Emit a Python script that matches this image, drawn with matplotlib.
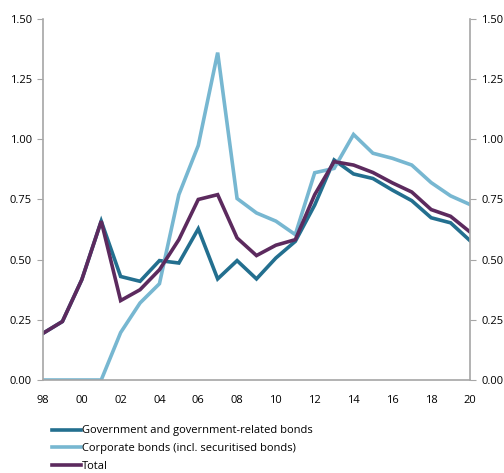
import matplotlib
matplotlib.use("Agg")
import matplotlib.pyplot as plt

plt.rcParams['font.family'] = ['Open Sans', 'DejaVu Sans']

# yearly values, 1998-2020
years = list(range(1998, 2021))
gov = [0.194, 0.243, 0.417, 0.66, 0.43, 0.41, 0.496, 0.486, 0.628, 0.42, 0.496, 0.42,
       0.507, 0.576, 0.727, 0.914, 0.856, 0.837, 0.789, 0.745, 0.674, 0.653, 0.579]
corp = [0.0, 0.0, 0.0, 0.0, 0.197, 0.32, 0.40, 0.77, 0.974, 1.36, 0.754, 0.694,
        0.66, 0.604, 0.861, 0.879, 1.02, 0.942, 0.921, 0.893, 0.82, 0.765, 0.729]
total = [0.194, 0.243, 0.417, 0.66, 0.33, 0.375, 0.458, 0.583, 0.75, 0.77, 0.59, 0.517,
         0.56, 0.583, 0.77, 0.907, 0.893, 0.862, 0.819, 0.781, 0.708, 0.68, 0.615]
labels = ['Government and government-related bonds',
          'Corporate bonds (incl. securitised bonds)',
          'Total']
colours = ['#236f8f', '#77b7d1', '#5c2a5e']

fig = plt.figure(figsize=(5.04, 4.73), dpi=100)
ax = fig.add_axes([0.0853, 0.1966, 0.8472, 0.7634])

for vals, lab, col in zip([gov, corp, total], labels, colours):
    ax.plot(years, vals, color=col, lw=2.6, label=lab, solid_joinstyle='miter')

ax.set_xlim(1998, 2020)
ax.set_ylim(0, 1.5)
ax.set_yticks([0, 0.25, 0.5, 0.75, 1.0, 1.25, 1.5])
ax.set_xticks(range(1998, 2021, 2))
ax.set_xticklabels(['%02d' % (y % 100) for y in range(1998, 2021, 2)])

gray = '#a6a6a6'
for s in ['left', 'right', 'bottom']:
    ax.spines[s].set_color(gray)
    ax.spines[s].set_linewidth(1.2)
ax.spines['top'].set_visible(False)
ax.tick_params(axis='y', which='both', left=True, right=True, labelleft=True, labelright=True,
               direction='out', length=4, color=gray, labelsize=8, pad=4)
ax.tick_params(axis='x', length=0, labelsize=8, pad=11)
ax.yaxis.set_major_formatter(matplotlib.ticker.FormatStrFormatter('%.2f'))

# legend sits below the x labels, no frame
fig.legend(loc='upper left', bbox_to_anchor=(0.095, 0.11), frameon=False, fontsize=8,
           handlelength=2.6, handletextpad=0.05, labelspacing=0.6, borderaxespad=0)

fig.savefig('out.png', dpi=100)
